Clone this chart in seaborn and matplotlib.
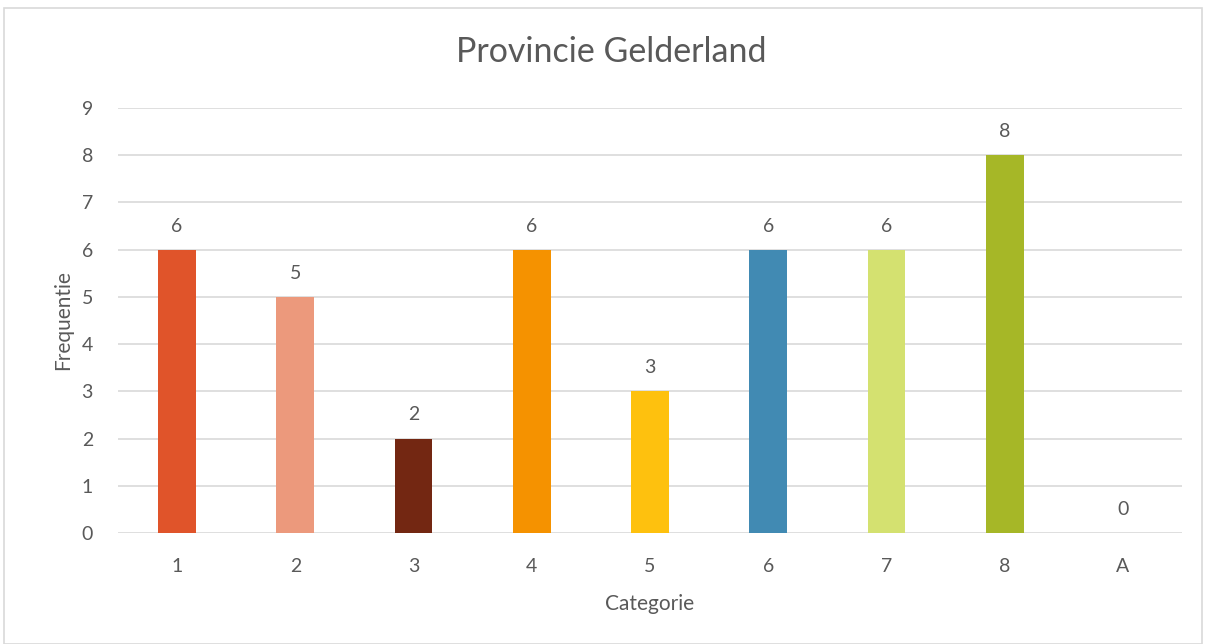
import pandas as pd
import matplotlib.pyplot as plt
import seaborn as sns
from matplotlib.patches import Rectangle

# dados -----------------------------------------------------------------------
categorieen = ['1', '2', '3', '4', '5', '6', '7', '8', 'A']
frequentie = [6, 5, 2, 6, 3, 6, 6, 8, 0]
kleuren = ['#E0542A', '#EC997C', '#732712', '#F59200', '#FEC10E',
           '#418AB3', '#D4E170', '#A6B727', '#A6B727']

df = pd.DataFrame({'Categorie': categorieen, 'Frequentie': frequentie})

sns.set_theme(style='white')
plt.rcParams['font.family'] = ['Lato', 'DejaVu Sans']
tekst = '#595959'

fig = plt.figure(figsize=(12.06, 6.44), dpi=100)
ax = fig.add_axes([118 / 1206, 1 - 533 / 644, (1182 - 118) / 1206, (533 - 108) / 644])

sns.barplot(data=df, x='Categorie', y='Frequentie', hue='Categorie',
            palette=kleuren, width=0.32, legend=False, ax=ax, saturation=1,
            linewidth=0)

ax.set_ylim(0, 9)
ax.set_xlim(-0.5, len(categorieen) - 0.5)
ax.set_yticks(range(0, 10))
ax.grid(axis='y', color='#D9D9D9', linewidth=1.2)
ax.set_axisbelow(True)
for s in ax.spines.values():
    s.set_visible(False)
ax.tick_params(axis='both', length=0, labelsize=14, colors=tekst)
ax.tick_params(axis='x', pad=18)
ax.tick_params(axis='y', pad=18)

# labels boven de staven
for i, v in enumerate(frequentie):
    ax.annotate(str(v), (i, v), xytext=(0, 17), textcoords='offset points',
                ha='center', va='center', fontsize=14, color=tekst)

fig.text(611 / 1206, 1 - 52 / 644, 'Provincie Gelderland', fontsize=24.5,
         color=tekst, ha='center', va='center')
ax.set_xlabel('Categorie', fontsize=15, color=tekst, labelpad=14)
ax.set_ylabel('Frequentie', fontsize=15, color=tekst, labelpad=6)

fig.patches.append(Rectangle((4 / 1206, 0), 1 - 8 / 1206, 1 - 8 / 644,
                             transform=fig.transFigure, fill=False,
                             edgecolor='#D9D9D9', linewidth=1.2))

plt.savefig('out.png', dpi=100)
